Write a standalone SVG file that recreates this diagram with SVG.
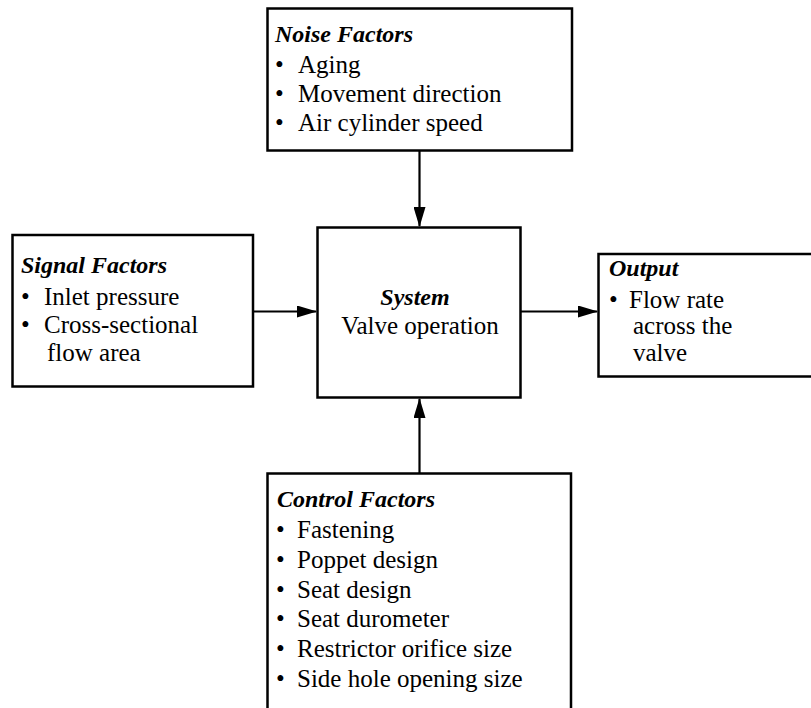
<svg xmlns="http://www.w3.org/2000/svg" width="811" height="708" viewBox="0 0 811 708">
<style>
.box{fill:#fff;stroke:#000;stroke-width:2.5}
.edge{fill:none;stroke:#000;stroke-width:2.5}
.conn{fill:none;stroke:#000;stroke-width:2.2}
text{font-family:"Liberation Serif","Times New Roman",serif;font-size:25px;fill:#000}
.h{font-weight:bold;font-style:italic;font-size:24px}
</style>
<defs>
<marker id="arr" markerWidth="20" markerHeight="12" refX="19" refY="6" orient="auto" markerUnits="userSpaceOnUse">
<path d="M0,0 L20,6 L0,12 Z" fill="#000"/>
</marker>
</defs>
<g id="connectors">
<line class="conn" x1="419.5" y1="151" x2="419.5" y2="226" marker-end="url(#arr)"/>
<line class="conn" x1="253" y1="311.5" x2="316" y2="311.5" marker-end="url(#arr)"/>
<line class="conn" x1="517" y1="311.5" x2="597" y2="311.5" marker-end="url(#arr)"/>
<line class="conn" x1="419.5" y1="473" x2="419.5" y2="399" marker-end="url(#arr)"/>
</g>
<g id="noise">
<rect class="box" x="267.5" y="8.5" width="304.5" height="142"/>
<text class="h" x="275" y="42">Noise Factors</text>
<text x="275" y="73">•</text><text x="298" y="73">Aging</text>
<text x="275" y="102">•</text><text x="298" y="102">Movement direction</text>
<text x="275" y="131">•</text><text x="298" y="131">Air cylinder speed</text>
</g>
<g id="signal">
<rect class="box" x="12.5" y="235" width="240.5" height="151.5"/>
<text class="h" x="21" y="273">Signal Factors</text>
<text x="21" y="305">•</text><text x="44" y="305">Inlet pressure</text>
<text x="21" y="333">•</text><text x="44" y="333">Cross-sectional</text>
<text x="47" y="361">flow area</text>
</g>
<g id="system">
<rect class="box" x="317.5" y="227.5" width="203" height="170"/>
<text class="h" x="415" y="305" text-anchor="middle">System</text>
<text x="420" y="334" text-anchor="middle">Valve operation</text>
</g>
<g id="output">
<path class="edge" d="M812,254 H598.5 V376.5 H812"/>
<text class="h" x="609" y="276">Output</text>
<text x="609" y="308">•</text><text x="629" y="308">Flow rate</text>
<text x="633" y="334">across the</text>
<text x="633" y="361">valve</text>
</g>
<g id="control">
<path class="edge" d="M267.5,710 V473.5 H571 V710"/>
<text class="h" x="277" y="507">Control Factors</text>
<text x="276" y="538">•</text><text x="297" y="538">Fastening</text>
<text x="276" y="568">•</text><text x="297" y="568">Poppet design</text>
<text x="276" y="598">•</text><text x="297" y="598">Seat design</text>
<text x="276" y="627">•</text><text x="297" y="627">Seat durometer</text>
<text x="276" y="657">•</text><text x="297" y="657">Restrictor orifice size</text>
<text x="276" y="687">•</text><text x="297" y="687">Side hole opening size</text>
</g>
</svg>
